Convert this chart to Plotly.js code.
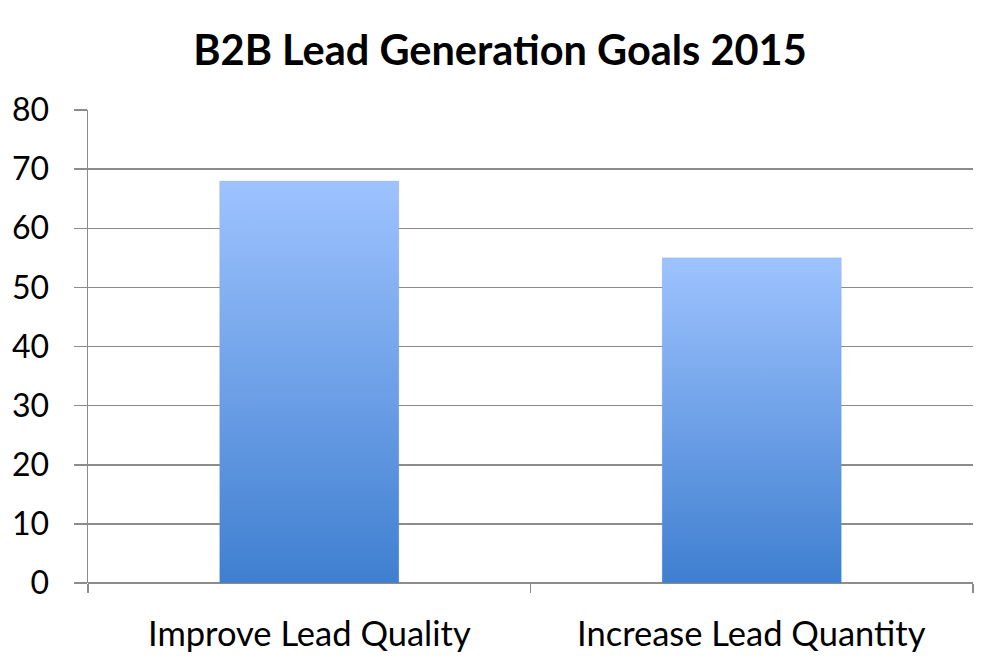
<!DOCTYPE html>
<html>
<head>
<meta charset="utf-8">
<script src="https://cdn.plot.ly/plotly-3.0.1.min.js"></script>
<style>
  html, body { margin: 0; padding: 0; background: #fff; }
  #chart { width: 1000px; height: 667px; }
</style>
</head>
<body>
<div id="chart"></div>
<script>
var categories = ['Improve Lead Quality', 'Increase Lead Quantity'];
var values = [68, 55];
var yTicks = [0, 10, 20, 30, 40, 50, 60, 70, 80];

var barWidth = 0.405;
var fontFamily = 'Lato, "Open Sans", sans-serif';

// one filled shape per bar, so each bar gets its own vertical gradient
var traces = values.map(function (v, i) {
    var left = i - barWidth / 2;
    var right = i + barWidth / 2;
    return {
        type: 'scatter',
        mode: 'lines',
        x: [left, left, right, right, left],
        y: [0, v, v, 0, 0],
        fill: 'toself',
        fillgradient: {
            type: 'vertical',
            colorscale: [[0, '#3f7fd0'], [1, '#9ec3ff']]
        },
        line: { width: 0.5, color: 'rgba(120,150,200,0.35)' },
        hoverinfo: 'text',
        text: categories[i] + ': ' + v,
        showlegend: false
    };
});

var annotations = categories.map(function (c, i) {
    return {
        text: c,
        x: i,
        xref: 'x',
        y: 0,
        yref: 'paper',
        yanchor: 'top',
        yshift: -27,
        showarrow: false,
        font: { family: fontFamily, size: 34.5, color: '#000' }
    };
});

var layout = {
    width: 1000,
    height: 667,
    margin: { l: 88, r: 27, t: 110, b: 84 },
    paper_bgcolor: '#fff',
    plot_bgcolor: '#fff',
    title: {
        text: '<b>B2B Lead Generation Goals 2015</b>',
        font: { family: fontFamily, size: 41.5, color: '#000' },
        x: 0.5,
        xanchor: 'center',
        y: 0.925,
        yanchor: 'middle'
    },
    xaxis: {
        range: [-0.5, 1.5],
        tickvals: [-0.5, 0.5, 1.5],
        showticklabels: false,
        ticks: 'outside',
        ticklen: 9,
        tickwidth: 1.5,
        tickcolor: '#8c8c8c',
        showgrid: false,
        zeroline: false,
        showline: false,
        fixedrange: true
    },
    yaxis: {
        range: [0, 80],
        tickvals: yTicks,
        ticks: 'outside',
        ticklen: 13,
        tickwidth: 1.5,
        tickcolor: '#8c8c8c',
        ticklabelstandoff: 18,
        tickfont: { family: fontFamily, size: 32, color: '#000' },
        showgrid: true,
        gridcolor: '#8c8c8c',
        gridwidth: 1.5,
        zeroline: true,
        zerolinecolor: '#8c8c8c',
        zerolinewidth: 1.5,
        showline: true,
        linecolor: '#8c8c8c',
        linewidth: 1.5,
        fixedrange: true
    },
    annotations: annotations
};

Plotly.newPlot('chart', traces, layout, { displayModeBar: false, staticPlot: true });
</script>
</body>
</html>
